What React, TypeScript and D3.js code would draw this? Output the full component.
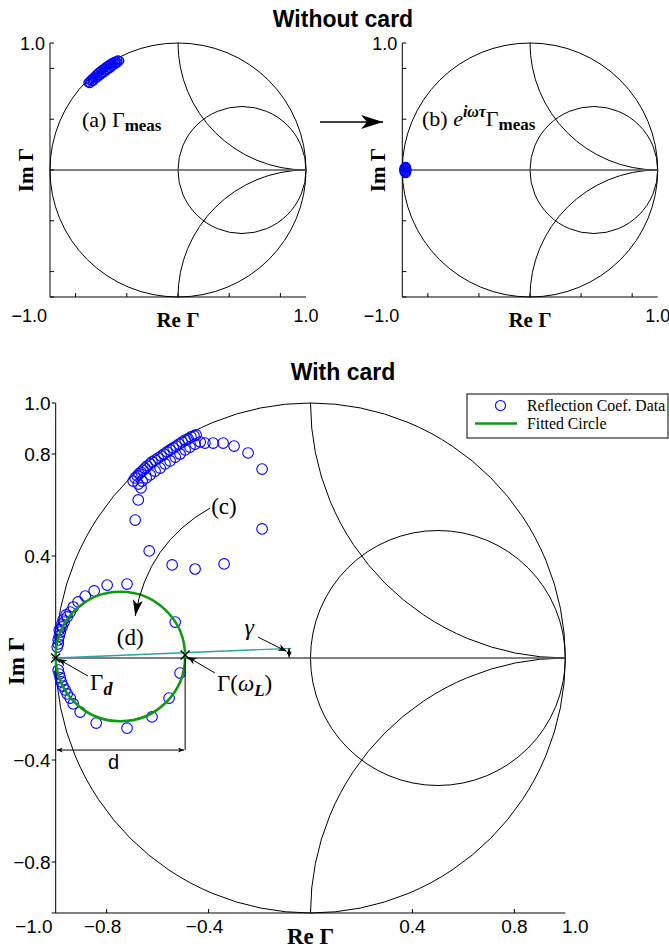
import React from 'react';
import * as d3 from 'd3';

// ---------- data (Re, Im) ----------
const measuredA: [number, number][] = [
  [-0.703, 0.688], [-0.688, 0.703], [-0.672, 0.719], [-0.656, 0.734], [-0.641, 0.75],
  [-0.625, 0.766], [-0.609, 0.777], [-0.594, 0.789], [-0.578, 0.801], [-0.563, 0.813],
  [-0.547, 0.824], [-0.531, 0.836], [-0.516, 0.844], [-0.5, 0.852], [-0.484, 0.859],
  [-0.469, 0.867], [-0.672, 0.695], [-0.641, 0.719], [-0.609, 0.742], [-0.578, 0.766],
  [-0.547, 0.789], [-0.516, 0.813], [-0.484, 0.836], [-0.69, 0.68], [-0.66, 0.7],
  [-0.625, 0.73], [-0.595, 0.755], [-0.562, 0.778], [-0.53, 0.8], [-0.5, 0.825],
  [-0.47, 0.845], [-0.455, 0.86],
];

const rotatedB: [number, number][] = [
  [-0.975, 0.028], [-0.966, 0.018], [-0.963, 0.0], [-0.966, -0.018], [-0.975, -0.028],
  [-0.984, -0.02], [-0.988, -0.006], [-0.988, 0.008], [-0.984, 0.02], [-0.97, 0.025],
  [-0.97, -0.025],
];

const cardData: [number, number][] = [
  // dense arc near unit circle
  [-0.696, 0.694], [-0.688, 0.706], [-0.68, 0.714], [-0.673, 0.722], [-0.665, 0.729],
  [-0.657, 0.737], [-0.649, 0.745], [-0.641, 0.753], [-0.629, 0.761], [-0.622, 0.769],
  [-0.61, 0.776], [-0.598, 0.784], [-0.586, 0.792], [-0.575, 0.8], [-0.563, 0.808],
  [-0.551, 0.816], [-0.539, 0.824], [-0.527, 0.831], [-0.516, 0.839], [-0.504, 0.847],
  [-0.492, 0.855], [-0.48, 0.859], [-0.469, 0.867], [-0.457, 0.871], [-0.449, 0.875],
  [-0.676, 0.682], [-0.661, 0.694], [-0.645, 0.706], [-0.629, 0.718], [-0.61, 0.733],
  [-0.59, 0.745], [-0.571, 0.761], [-0.551, 0.773], [-0.531, 0.788], [-0.512, 0.8],
  [-0.492, 0.816], [-0.473, 0.827], [-0.453, 0.839], [-0.433, 0.847],
  // loop
  [-0.414, 0.843], [-0.382, 0.843], [-0.343, 0.843], [-0.3, 0.831], [-0.245, 0.804],
  [-0.19, 0.741], [-0.19, 0.506], [-0.339, 0.369], [-0.453, 0.349], [-0.543, 0.365],
  [-0.633, 0.42], [-0.688, 0.541], [-0.676, 0.62], [-0.665, 0.667],
  // near Gamma_d, above axis
  [-0.72, 0.29], [-0.798, 0.286], [-0.849, 0.263], [-0.884, 0.243], [-0.912, 0.22],
  [-0.931, 0.2], [-0.943, 0.18], [-0.955, 0.161], [-0.967, 0.141], [-0.975, 0.122],
  [-0.982, 0.102], [-0.986, 0.086], [-0.99, 0.071], [-0.99, 0.055], [-0.994, 0.043],
  [-0.978, 0.129], [-0.986, 0.11], [-0.971, 0.149], [-0.959, 0.169],
  [-0.531, 0.141],
  // below axis
  [-0.99, -0.047], [-0.986, -0.063], [-0.982, -0.078], [-0.978, -0.094], [-0.971, -0.11],
  [-0.963, -0.125], [-0.955, -0.141], [-0.943, -0.157], [-0.931, -0.18], [-0.904, -0.212],
  [-0.841, -0.255], [-0.72, -0.275], [-0.622, -0.231], [-0.555, -0.157], [-0.512, -0.059],
];

const fitCenter: [number, number] = [-0.746, 0.006];
const fitRadius = 0.254;
const gammaD: [number, number] = [-1, 0];
const gammaWL: [number, number] = [-0.492, 0.012];
const tiltEnd: [number, number] = [-0.076, 0.038];
const dLevel = -0.361;

const tickValues = [-0.8, -0.4, 0, 0.4, 0.8];
const bottomXLabels = [-0.8, -0.4, 0.4, 0.8];
const bottomYLabels = [1.0, 0.8, 0.4, -0.4, -0.8];

const SANS = 'Liberation Sans, Arial, sans-serif';
const SERIF = 'Liberation Serif, Times New Roman, serif';
const fmt = (v: number) => (v < 0 ? '\u2212' : '') + Math.abs(v).toFixed(1);

type Sc = d3.ScaleLinear<number, number>;

function SmithGrid({ x, y, sw }: { x: Sc; y: Sc; sw: number }) {
  const rx = x(1) - x(0);
  const ry = y(0) - y(1);
  return (
    <g fill="none" stroke="#000" strokeWidth={sw}>
      <ellipse cx={x(0)} cy={y(0)} rx={rx} ry={ry} />
      <ellipse cx={x(0.5)} cy={y(0)} rx={rx / 2} ry={ry / 2} />
      <path d={`M${x(0)},${y(1)} A${rx},${ry} 0 0 0 ${x(1)},${y(0)}`} />
      <path d={`M${x(0)},${y(-1)} A${rx},${ry} 0 0 1 ${x(1)},${y(0)}`} />
      <line x1={x(-1)} x2={x(1)} y1={y(0)} y2={y(0)} stroke="#555" strokeWidth={sw * 1.3} />
    </g>
  );
}

function Axes({ x, y, yOut }: { x: Sc; y: Sc; yOut: boolean }) {
  return (
    <g stroke="#000" strokeWidth={1}>
      <line x1={x(-1)} x2={x(-1)} y1={y(-1)} y2={y(1)} />
      <line x1={x(-1)} x2={x(1)} y1={y(-1)} y2={y(-1)} />
      {tickValues.map((t) => (
        <line key={'y' + t} x1={x(-1)} x2={x(-1) + (yOut ? -4 : 4)} y1={y(t)} y2={y(t)} />
      ))}
      {[1, -1].map((t) => (
        <line key={'ye' + t} x1={x(-1)} x2={x(-1) + (yOut ? -4 : 4)} y1={y(t)} y2={y(t)} />
      ))}
      {tickValues.map((t) => (
        <line key={'x' + t} x1={x(t)} x2={x(t)} y1={y(-1)} y2={y(-1) - 4} />
      ))}
    </g>
  );
}

function TopPanel({ x, y, data, label }: { x: Sc; y: Sc; data: [number, number][]; label: React.ReactNode }) {
  return (
    <g>
      <SmithGrid x={x} y={y} sw={1} />
      <Axes x={x} y={y} yOut={false} />
      {data.map((d, i) => (
        <circle key={i} cx={x(d[0])} cy={y(d[1])} r={4} fill="none" stroke="#0000ff" strokeWidth={1.4} />
      ))}
      <g fontFamily={SANS} fontSize={18} fill="#000">
        <text x={x(-1) - 5} y={y(1) + 7} textAnchor="end">1.0</text>
        <text x={x(-1) - 3} y={y(-1) + 25} textAnchor="end">{fmt(-1)}</text>
        <text x={x(1)} y={y(-1) + 25} textAnchor="middle">1.0</text>
      </g>
      <text x={(x(-1) + x(1)) / 2} y={y(-1) + 30} textAnchor="middle" fontFamily={SERIF} fontWeight="bold" fontSize={21}>Re Γ</text>
      <text transform={`translate(${x(-1) - 17},${y(0)}) rotate(-90)`} textAnchor="middle" fontFamily={SERIF} fontWeight="bold" fontSize={21}>Im Γ</text>
      {label}
    </g>
  );
}

export default function App() {
  const xa = d3.scaleLinear().domain([-1, 1]).range([50, 306]);
  const ya = d3.scaleLinear().domain([-1, 1]).range([297, 43]);
  const xb = d3.scaleLinear().domain([-1, 1]).range([402.3, 657.7]);
  const yb = ya;
  const X = d3.scaleLinear().domain([-1, 1]).range([55.7, 565.3]);
  const Y = d3.scaleLinear().domain([-1, 1]).range([913, 403]);

  const fcx = X(fitCenter[0]);
  const fcy = Y(fitCenter[1]);
  const frx = X(fitRadius) - X(0);
  const fry = Y(0) - Y(fitRadius);

  // curved arrow (c)
  const cStart: [number, number] = [-0.394, 0.588];
  const cCtrl: [number, number] = [-0.64, 0.45];
  const cEnd: [number, number] = [-0.688, 0.165];
  const cp = d3.path();
  cp.moveTo(X(cStart[0]), Y(cStart[1]));
  cp.quadraticCurveTo(X(cCtrl[0]), Y(cCtrl[1]), X(cEnd[0]), Y(cEnd[1]));

  const cross = (p: [number, number], k: string) => {
    const cx = X(p[0]);
    const cy = Y(p[1]);
    const s = 4.5;
    return (
      <g key={k} stroke="#000" strokeWidth={1.4}>
        <line x1={cx - s} y1={cy - s} x2={cx + s} y2={cy + s} />
        <line x1={cx - s} y1={cy + s} x2={cx + s} y2={cy - s} />
      </g>
    );
  };

  return (
    <svg width={669} height={950} style={{ position: 'absolute', left: 0, top: 0, background: '#fff' }}>
      <defs>
        <marker id="bigHead" viewBox="0 0 22 14" refX={22} refY={7} markerWidth={22} markerHeight={14} markerUnits="userSpaceOnUse" orient="auto">
          <path d="M0,0 L22,7 L0,14 L6,7 z" fill="#000" />
        </marker>
        <marker id="cHead" viewBox="0 0 16 10" refX={16} refY={5} markerWidth={16} markerHeight={10} markerUnits="userSpaceOnUse" orient="auto">
          <path d="M0,0 L16,5 L0,10 L4,5 z" fill="#000" />
        </marker>
        <marker id="smallHead" viewBox="0 0 10 8" refX={10} refY={4} markerWidth={9} markerHeight={7} markerUnits="userSpaceOnUse" orient="auto">
          <path d="M0,0 L10,4 L0,8 L3,4 z" fill="#000" />
        </marker>
        <marker id="tinyHead" viewBox="0 0 10 8" refX={10} refY={4} markerWidth={7} markerHeight={5} markerUnits="userSpaceOnUse" orient="auto-start-reverse">
          <path d="M0,0 L10,4 L0,8 L3,4 z" fill="#000" />
        </marker>
      </defs>

      {/* titles */}
      <text x={343} y={27} textAnchor="middle" fontFamily={SANS} fontWeight="bold" fontSize={23}>Without card</text>
      <text x={343} y={380} textAnchor="middle" fontFamily={SANS} fontWeight="bold" fontSize={23}>With card</text>

      <TopPanel
        x={xa}
        y={ya}
        data={measuredA}
        label={
          <text x={82} y={127} fontFamily={SERIF} fontSize={22}>
            (a) Γ<tspan dy={4} fontSize={17} fontWeight="bold">meas</tspan>
          </text>
        }
      />
      <TopPanel
        x={xb}
        y={yb}
        data={rotatedB}
        label={
          <text x={422} y={126} fontFamily={SERIF} fontSize={22}>
            (b) <tspan fontStyle="italic">e</tspan>
            <tspan dy={-9} fontSize={16} fontWeight="bold" fontStyle="italic">iωτ</tspan>
            <tspan dy={9}>Γ</tspan>
            <tspan dy={4} fontSize={17} fontWeight="bold">meas</tspan>
          </text>
        }
      />

      {/* arrow between top panels */}
      <line x1={320} y1={122} x2={383} y2={122} stroke="#000" strokeWidth={1.5} markerEnd="url(#bigHead)" />

      {/* bottom panel */}
      <SmithGrid x={X} y={Y} sw={1} />
      <Axes x={X} y={Y} yOut={true} />
      <g fontFamily={SANS} fontSize={19} fill="#000">
        {bottomYLabels.map((v) => (
          <text key={'yl' + v} x={X(-1) - 5} y={Y(v) + 7} textAnchor="end">{fmt(v)}</text>
        ))}
        <text x={X(-1) - 3} y={Y(-1) + 20} textAnchor="end">{fmt(-1)}</text>
        {bottomXLabels.map((v) => (
          <text key={'xl' + v} x={X(v) - (v < 0 ? 4 : 0)} y={Y(-1) + 20} textAnchor="middle">{fmt(v)}</text>
        ))}
        <text x={X(1) + 10} y={Y(-1) + 20} textAnchor="middle">1.0</text>
      </g>
      <text x={X(0)} y={Y(-1) + 31} textAnchor="middle" fontFamily={SERIF} fontWeight="bold" fontSize={23}>Re Γ</text>
      <text transform={`translate(${X(-1) - 32},${Y(0) + 3}) rotate(-90)`} textAnchor="middle" fontFamily={SERIF} fontWeight="bold" fontSize={23}>Im Γ</text>

      {/* data */}
      {cardData.map((d, i) => (
        <circle key={i} cx={X(d[0])} cy={Y(d[1])} r={5.3} fill="none" stroke="#0000ff" strokeWidth={1.1} />
      ))}

      {/* fitted circle */}
      <ellipse cx={fcx} cy={fcy} rx={frx} ry={fry} fill="none" stroke="#109a10" strokeWidth={2.6} />

      {/* tilted line */}
      <line x1={X(gammaD[0])} y1={Y(gammaD[1])} x2={X(tiltEnd[0])} y2={Y(tiltEnd[1])} stroke="#2aa3a3" strokeWidth={1.3} />
      {cross(gammaD, 'gd')}
      {cross(gammaWL, 'gw')}

      {/* d dimension */}
      <line x1={X(gammaWL[0])} x2={X(gammaWL[0])} y1={Y(0)} y2={Y(dLevel)} stroke="#000" strokeWidth={1} />
      <line x1={X(-1) + 1} x2={X(gammaWL[0]) - 1} y1={Y(dLevel)} y2={Y(dLevel)} stroke="#000" strokeWidth={1} markerStart="url(#tinyHead)" markerEnd="url(#tinyHead)" />
      <text x={X(-0.773)} y={Y(dLevel) + 19} textAnchor="middle" fontFamily={SANS} fontSize={20}>d</text>

      {/* gamma angle arrow */}
      <line x1={X(-0.084)} x2={X(-0.084)} y1={Y(0.038)} y2={Y(0) - 0.5} stroke="#000" strokeWidth={1} markerStart="url(#tinyHead)" markerEnd="url(#tinyHead)" />
      <line x1={X(-0.206)} y1={Y(0.082)} x2={X(-0.094)} y2={Y(0.026)} stroke="#000" strokeWidth={1} markerEnd="url(#smallHead)" />
      <text x={X(-0.24)} y={Y(0.09)} textAnchor="middle" fontFamily={SERIF} fontSize={24} fontStyle="italic">γ</text>

      {/* Gamma_d arrow & label */}
      <line x1={X(-0.873)} y1={Y(-0.071)} x2={X(-0.99)} y2={Y(-0.004)} stroke="#000" strokeWidth={1} markerEnd="url(#smallHead)" />
      <text x={X(-0.865)} y={Y(-0.125)} fontFamily={SERIF} fontSize={23}>
        Γ<tspan dy={5} fontSize={18} fontWeight="bold" fontStyle="italic">d</tspan>
      </text>

      {/* Gamma(omega_L) arrow & label */}
      <line x1={X(-0.375)} y1={Y(-0.059)} x2={X(-0.482)} y2={Y(0.004)} stroke="#000" strokeWidth={1} markerEnd="url(#smallHead)" />
      <text x={X(-0.367)} y={Y(-0.13)} fontFamily={SERIF} fontSize={23}>
        Γ(<tspan fontStyle="italic">ω</tspan>
        <tspan dy={5} fontSize={17} fontWeight="bold" fontStyle="italic">L</tspan>
        <tspan dy={-5}>)</tspan>
      </text>

      {/* (c) and (d) */}
      <path d={cp.toString()} fill="none" stroke="#000" strokeWidth={1} markerEnd="url(#cHead)" />
      <text x={X(-0.39)} y={Y(0.566)} fontFamily={SERIF} fontSize={23}>(c)</text>
      <text x={X(-0.76)} y={Y(0.05)} fontFamily={SERIF} fontSize={23}>(d)</text>

      {/* legend */}
      <rect x={467} y={394} width={201} height={44} fill="#fff" stroke="#000" strokeWidth={1} />
      <circle cx={500.5} cy={405.5} r={5} fill="none" stroke="#0000ff" strokeWidth={1.1} />
      <text x={527} y={411} fontFamily={SERIF} fontSize={15.8}>Reflection Coef. Data</text>
      <line x1={475} x2={517} y1={423.5} y2={423.5} stroke="#109a10" strokeWidth={2.4} />
      <text x={527} y={429} fontFamily={SERIF} fontSize={15.8}>Fitted Circle</text>
    </svg>
  );
}
